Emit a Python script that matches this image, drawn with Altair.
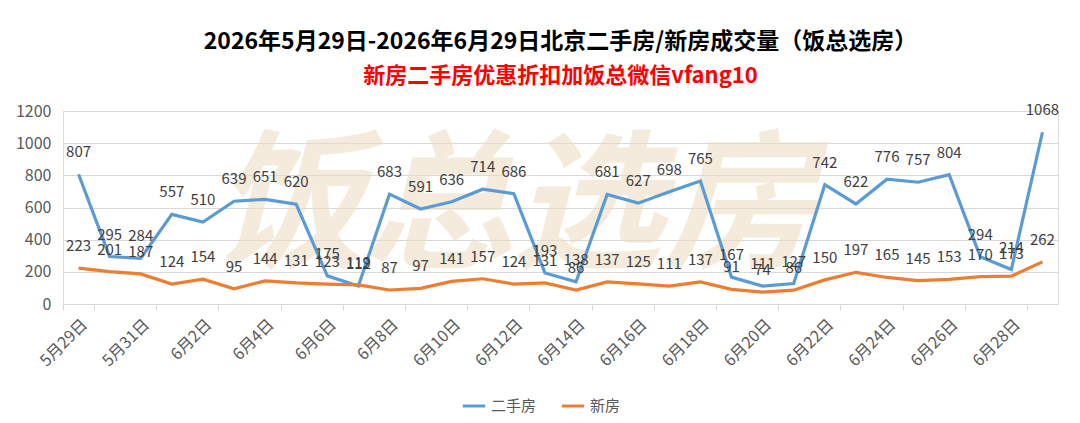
import altair as alt
import pandas as pd

dates = ["5月29日", "5月30日", "5月31日"] + [f"6月{d}日" for d in range(1, 30)]
second_hand = [807, 295, 284, 557, 510, 639, 651, 620, 175, 112, 683, 591, 636, 714, 686, 193,
               138, 681, 627, 698, 765, 167, 111, 127, 742, 622, 776, 757, 804, 294, 214, 1068]
new_house = [223, 201, 187, 124, 154, 95, 144, 131, 123, 119, 87, 97, 141, 157, 124, 131,
             86, 137, 125, 111, 137, 91, 74, 86, 150, 197, 165, 145, 153, 170, 173, 262]
series_names = ["二手房", "新房"]
series_colors = ["#5B9BD5", "#ED7D31"]
tick_dates = dates[::2]

rows = []
for i, d in enumerate(dates):
    rows.append({"date": d, "series": series_names[0], "value": second_hand[i]})
    rows.append({"date": d, "series": series_names[1], "value": new_house[i]})
df = pd.DataFrame(rows)

FONT = "Noto Sans CJK SC"

x = alt.X("date:N", sort=dates, bandPosition=0.5,
          scale=alt.Scale(type="band", paddingInner=0, paddingOuter=0),
          axis=alt.Axis(title=None, values=tick_dates, labelAngle=-45, tickBand="extent",
                        labelFontSize=16, labelColor="#595959", labelFont=FONT,
                        domainColor="#d9d9d9", tickColor="#d9d9d9", tickSize=6,
                        labelPadding=6, grid=False))
y = alt.Y("value:Q", scale=alt.Scale(domain=[0, 1200], nice=False),
          axis=alt.Axis(title=None, values=[0, 200, 400, 600, 800, 1000, 1200], format="d",
                        labelFontSize=16, labelColor="#595959", labelFont=FONT,
                        domain=False, ticks=False, gridColor="#d9d9d9", labelPadding=12))
color = alt.Color("series:N", sort=series_names,
                  scale=alt.Scale(domain=series_names, range=series_colors),
                  legend=alt.Legend(title=None, orient="none", legendX=398, legendY=282,
                                    direction="horizontal", symbolType="stroke",
                                    symbolStrokeWidth=3, symbolSize=500,
                                    labelFontSize=15, labelColor="#595959", labelFont=FONT,
                                    columnPadding=18))

base = alt.Chart(df)

watermark = alt.Chart(pd.DataFrame({"t": ["饭总选房"]})).mark_text(
    fontSize=150, fontWeight="bold", font=FONT, color="#ecdcc0", opacity=0.55,
    align="center", baseline="middle", fontStyle="italic"
).encode(text="t:N", x=alt.value(450), y=alt.value(100))

lines = base.mark_line(strokeWidth=3.2).encode(x=x, y=y, color=color)
labels = base.mark_text(dy=-22, fontSize=15, font=FONT, color="#404040").encode(
    x=x, y=y, text="value:Q")

chart = alt.layer(watermark, lines, labels).properties(
    width=995, height=193,
    title=alt.TitleParams(
        text="2026年5月29日-2026年6月29日北京二手房/新房成交量（饭总选房）",
        subtitle="新房二手房优惠折扣加饭总微信vfang10",
        font=FONT, fontSize=23, fontWeight="bold", color="#000000",
        subtitleFont=FONT, subtitleFontSize=22, subtitleFontWeight="bold",
        subtitleColor="#FF0000", subtitlePadding=12, anchor="middle", offset=16),
    autosize=alt.AutoSizeParams(type="none"),
    padding={"left": 55, "top": 103, "right": 14, "bottom": 111},
).configure_view(stroke=None).configure(background="white")

chart.save("out.html", embed_options={"renderer": "svg", "actions": False})
